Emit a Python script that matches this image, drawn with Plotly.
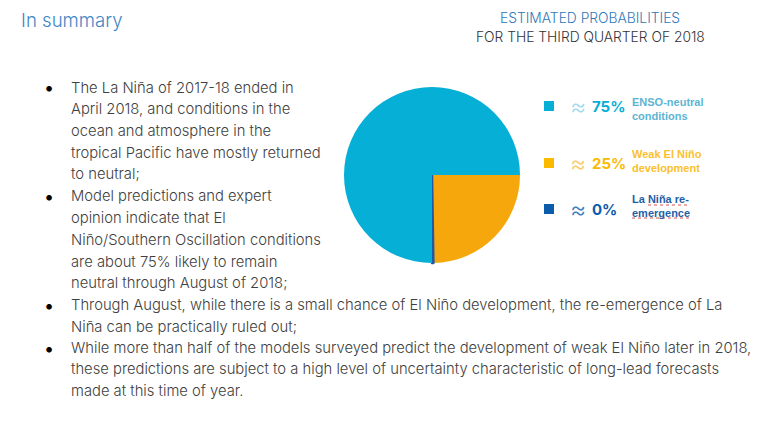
import plotly.graph_objects as go

# pie values (the 0% class is drawn as a thin sliver)
slice_names = ["Weak El Niño development", "La Niña re-emergence", "ENSO-neutral conditions"]
slice_values = [24.75, 0.25, 75]
slice_colors = ["#F6A70C", "#1F5AA8", "#05AFD6"]

title_text = "In summary"
header_lines = ["ESTIMATED PROBABILITIES", "FOR THE THIRD QUARTER OF 2018"]

body_lines = [
    "The La Niña of 2017-18 ended in",
    "April 2018, and conditions in the",
    "ocean and atmosphere in the",
    "tropical Pacific have mostly returned",
    "to neutral;",
    "Model predictions and expert",
    "opinion indicate that El",
    "Niño/Southern Oscillation conditions",
    "are about 75% likely to remain",
    "neutral through August of 2018;",
    "Through August, while there is a small chance of El Niño development, the re-emergence of La",
    "Niña can be practically ruled out;",
    "While more than half of the models surveyed predict the development of weak El Niño later in 2018,",
    "these predictions are subject to a high level of uncertainty characteristic of long-lead forecasts",
    "made at this time of year.",
]
body_y = [88, 109, 131, 153, 174, 196, 218, 240, 262, 283, 305, 327, 348, 369, 391]
bullet_rows = [0, 5, 10, 12]

legend_pcts = ["75%", "25%", "0%"]
legend_labels = ["ENSO-neutral<br>conditions", "Weak El Niño<br>development", "La Niña re-<br>emergence"]
legend_colors = ["#05AFD6", "#FBBA00", "#0B5CAB"]
legend_approx_colors = ["#A5DCEC", "#FBCB6A", "#3F7FBF"]
legend_text_colors = ["#5DB4D2", "#FBC02D", "#1F5FA8"]
legend_y = [106, 163, 209]
label_y = [108.5, 161, 206]

W, H = 768, 424
BODY_FONT = "Inter"
TEXT_GREY = "#404040"


def add_text(fig, x, y, text, size, color, anchor="left", weight=300):
    fig.add_annotation(
        x=x / W, y=1 - y / H, xref="paper", yref="paper",
        text=text, showarrow=False, xanchor=anchor, yanchor="middle",
        align=anchor, font=dict(size=size, color=color, family=BODY_FONT, weight=weight),
    )


fig = go.Figure()

fig.add_trace(
    go.Pie(
        labels=slice_names,
        values=slice_values,
        sort=False,
        direction="clockwise",
        rotation=90,
        textinfo="none",
        hoverinfo="label+percent",
        showlegend=False,
        marker=dict(colors=slice_colors, line=dict(color=slice_colors, width=[0, 2.5, 0])),
        domain=dict(x=[344 / W, 520 / W], y=[1 - 263 / H, 1 - 87 / H]),
    )
)

add_text(fig, 19, 20, title_text, 18.6, "#3F86C6")
add_text(fig, 590, 18, header_lines[0], 13.8, "#2F77B8", anchor="center")
add_text(fig, 590, 37, header_lines[1], 13.8, "#333333", anchor="center")

for text, y in zip(body_lines, body_y):
    add_text(fig, 69, y, text, 14.78, TEXT_GREY)

for row in bullet_rows:
    add_text(fig, 49, body_y[row], "•", 18, "#000000", anchor="center", weight=400)

for i, y in enumerate(legend_y):
    color = legend_colors[i]
    fig.add_shape(
        type="rect", xref="paper", yref="paper",
        x0=544 / W, x1=554 / W, y0=1 - (y + 5) / H, y1=1 - (y - 5) / H,
        fillcolor=color, line=dict(width=0),
    )
    add_text(fig, 578, y, "≈", 25, legend_approx_colors[i], anchor="center")
    add_text(fig, 590, y, legend_pcts[i], 15, color, weight=700)
    fig.add_annotation(
        x=630 / W, y=1 - label_y[i] / H, xref="paper", yref="paper",
        text=legend_labels[i], showarrow=False, xanchor="left", yanchor="middle",
        align="left", font=dict(size=11, color=legend_text_colors[i], family="Liberation Sans", weight=700),
    )

# spell-check underline of the last legend label
for x0, x1, y in [(648, 689, 205), (632, 689, 218)]:
    fig.add_shape(
        type="line", xref="paper", yref="paper",
        x0=x0 / W, x1=x1 / W, y0=1 - y / H, y1=1 - y / H,
        line=dict(color="#D9534F", width=1, dash="dot"),
    )

fig.update_layout(
    width=W,
    height=H,
    margin=dict(l=0, r=0, t=0, b=0),
    paper_bgcolor="white",
    plot_bgcolor="white",
    showlegend=False,
)

fig.write_html("out.html", post_script="document.body.style.margin = '0';", config=dict(displayModeBar=False))
